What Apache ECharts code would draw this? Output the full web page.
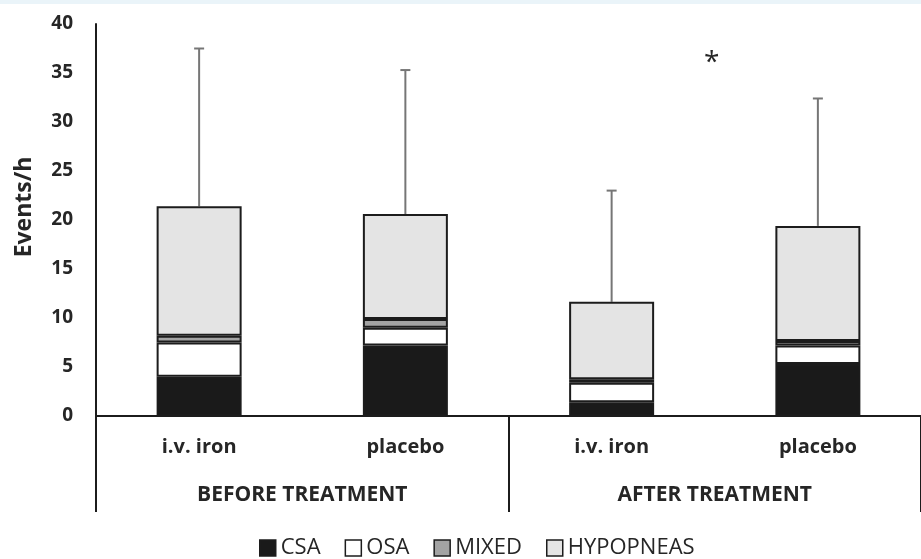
<!DOCTYPE html>
<html>
<head>
<meta charset="utf-8">
<script src="https://cdn.jsdelivr.net/npm/echarts@6/dist/echarts.min.js"></script>
<style>
  html, body { margin: 0; padding: 0; background: #ffffff; }
  #chart { width: 921px; height: 559px; }
</style>
</head>
<body>
<div id="chart"></div>
<script>
// Groups and arms
const groups = ['BEFORE TREATMENT', 'AFTER TREATMENT'];
const arms = ['i.v. iron', 'placebo', 'i.v. iron', 'placebo'];

// Mean events per hour for each apnea type (stacked)
const csa = [4.0, 7.2, 1.4, 5.3];
const osa = [3.5, 1.8, 2.0, 1.9];
const mixed = [0.7, 0.9, 0.35, 0.45];
const hypopneas = [13.2, 10.7, 7.9, 11.75];

// Upper end of the whisker (mean + SD of total events)
const whiskerTop = [37.5, 35.3, 23.0, 32.4];

// Y axis ticks
const yMin = 0, yMax = 40, yStep = 5;

const totals = arms.map((_, i) => csa[i] + osa[i] + mixed[i] + hypopneas[i]);

const FONT = '"Open Sans", Lato, sans-serif';
const INK = '#262626';
const EDGE = '#1c1c1c';

function barSeries(name, data, fill) {
  return {
    name: name,
    type: 'bar',
    stack: 'events',
    data: data,
    barWidth: 85,
    itemStyle: { color: fill, borderColor: EDGE, borderWidth: 2 },
    emphasis: { disabled: true },
    silent: true
  };
}

const chart = echarts.init(document.getElementById('chart'), null, { renderer: 'canvas' });

chart.setOption({
  animation: false,
  backgroundColor: '#ffffff',
  graphic: [
    { type: 'rect', left: 0, top: 0, shape: { width: 921, height: 4 }, style: { fill: '#eaf4f9' }, silent: true },
    { type: 'text', left: 704, top: 49, style: { text: '*', fill: INK, font: '28px ' + FONT } }
  ],
  grid: { left: 96, top: 24, width: 838, height: 392, containLabel: false },
  legend: {
    top: 532,
    left: 254,
    itemWidth: 16,
    itemHeight: 16,
    itemGap: 24,
    icon: 'rect',
    selectedMode: false,
    itemStyle: { borderWidth: 1.5, borderColor: EDGE },
    textStyle: { fontFamily: FONT, fontSize: 22, color: INK },
    data: ['CSA', 'OSA', 'MIXED', 'HYPOPNEAS']
  },
  xAxis: [
    {
      type: 'category',
      data: arms,
      position: 'bottom',
      axisLine: { show: true, lineStyle: { color: EDGE, width: 2 } },
      axisTick: { show: false },
      axisLabel: { color: INK, fontFamily: FONT, fontWeight: 'bold', fontSize: 20, margin: 21 }
    },
    {
      type: 'category',
      data: groups,
      position: 'bottom',
      axisLine: { show: false },
      axisTick: { show: true, length: 96, interval: 0, lineStyle: { color: EDGE, width: 2 } },
      axisLabel: { color: INK, fontFamily: FONT, fontWeight: 'bold', fontSize: 21, margin: 69 }
    }
  ],
  yAxis: {
    type: 'value',
    min: yMin,
    max: yMax,
    interval: yStep,
    name: 'Events/h',
    nameLocation: 'middle',
    nameGap: 60,
    nameTextStyle: { color: INK, fontFamily: FONT, fontWeight: 'bold', fontSize: 23, padding: [0, 0, 0, 26] },
    axisLine: { show: true, lineStyle: { color: EDGE, width: 2 } },
    axisTick: { show: false },
    splitLine: { show: false },
    axisLabel: { color: INK, fontFamily: FONT, fontWeight: 'bold', fontSize: 19, margin: 23 }
  },
  series: [
    barSeries('CSA', csa, '#1a1a1a'),
    barSeries('OSA', osa, '#ffffff'),
    barSeries('MIXED', mixed, '#a3a3a3'),
    barSeries('HYPOPNEAS', hypopneas, '#e4e4e4'),
    {
      name: 'SD',
      type: 'custom',
      xAxisIndex: 0,
      silent: true,
      z: 1,
      data: arms.map((_, i) => [i, totals[i], whiskerTop[i]]),
      renderItem: function (params, api) {
        const i = api.value(0);
        const lo = api.coord([i, api.value(1)]);
        const hi = api.coord([i, api.value(2)]);
        const stroke = { stroke: '#767676', lineWidth: 2 };
        return {
          type: 'group',
          children: [
            { type: 'line', shape: { x1: lo[0], y1: lo[1], x2: hi[0], y2: hi[1] }, style: stroke },
            { type: 'line', shape: { x1: hi[0] - 5, y1: hi[1], x2: hi[0] + 5, y2: hi[1] }, style: stroke }
          ]
        };
      }
    }
  ]
});
</script>
</body>
</html>
